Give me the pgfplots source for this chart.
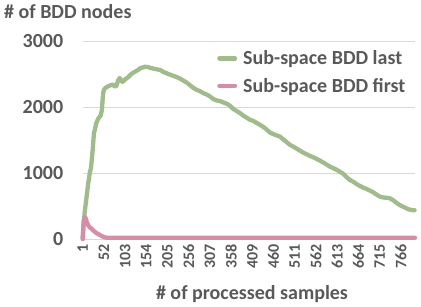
\documentclass[border=0pt]{standalone}
\usepackage{pgfplots}
\pgfplotsset{compat=1.18}
\usepackage{fontspec}
\setmainfont{Carlito}
\definecolor{txtgray}{RGB}{89,89,89}
\definecolor{gridgray}{RGB}{217,217,217}
\definecolor{lastgreen}{RGB}{160,187,140}
\definecolor{firstpink}{RGB}{214,142,166}
\begin{document}
\begin{tikzpicture}
\begin{axis}[
  scale only axis,
  width=332.3pt, height=198pt,
  xmin=1, xmax=800, ymin=0, ymax=3000,
  axis line style={draw=none},
  clip=false,
  ymajorgrids, grid style={gridgray, line width=0.8pt},
  ytick={0,1000,2000,3000},
  xtick={1,52,103,154,205,256,307,358,409,460,511,562,613,664,715,766},
  major tick length=0pt,
  /pgf/number format/assume math mode=true,
  scaled y ticks=false,
  yticklabel style={font=\fontsize{20}{22}\selectfont\bfseries, text=txtgray, anchor=east, xshift=-16pt, /pgf/number format/.cd, 1000 sep={}},
  xticklabel style={font=\fontsize{16}{18}\selectfont\bfseries, text=txtgray, rotate=90, anchor=east, xshift=-2pt, /pgf/number format/.cd, 1000 sep={}},
  legend style={at={(134.3/332.3,0.843)}, anchor=west, draw=none, fill=none,
    font=\fontsize{20}{22}\selectfont\bfseries, text=txtgray,
    row sep=8pt, column sep=4pt, inner sep=0pt, cells={anchor=west}},
  legend image code/.code={\draw[line width=4.5pt, line cap=round] (2.25pt,0pt) -- (17.75pt,0pt);},
]
\addplot[lastgreen, line width=4.3pt, line join=round, line cap=round] coordinates {
(1,0) (3,200) (6,420) (10,620) (14,830) (18,1000) (21,1080) (25,1350) (28,1600)
(31,1680) (34,1760) (38,1820) (44,1870) (47,1950) (50,2200) (52,2260) (56,2290)
(62,2313) (68,2330) (74,2340) (78,2310) (82,2320) (86,2400) (90,2440) (94,2390)
(98,2380) (103,2420) (110,2450) (116,2490) (122,2517) (128,2540) (134,2560)
(140,2590) (146,2600) (151,2610) (158,2605) (165,2590) (171,2582) (180,2570)
(188,2560) (195,2530) (203,2510) (211,2490) (220,2470) (228,2450) (235,2430)
(243,2400) (251,2370) (259,2330) (267,2290) (275,2260) (283,2240) (291,2210)
(299,2190) (307,2160) (315,2120) (323,2100) (331,2090) (339,2070) (347,2050)
(355,2020) (363,1970) (371,1940) (379,1909) (387,1870) (395,1840) (403,1807)
(411,1790) (419,1760) (427,1731) (435,1700) (443,1660) (451,1614) (459,1590)
(467,1570) (475,1554) (483,1510) (491,1470) (499,1428) (507,1400) (515,1370)
(523,1341) (531,1310) (539,1285) (547,1260) (555,1240) (563,1215) (571,1189)
(579,1160) (587,1130) (595,1098) (603,1075) (611,1050) (619,1022) (627,990)
(635,940) (643,896) (651,870) (659,835) (667,805) (675,780) (683,760) (691,734)
(699,710) (707,675) (715,643) (723,630) (731,625) (739,618) (747,590) (755,550)
(763,516) (771,490) (779,465) (787,445) (795,436) (799,436)
};
\addlegendentry{Sub-space BDD last}
\addplot[firstpink, line width=4.3pt, line join=round, line cap=round] coordinates {
(1,0) (3,250) (6,330) (8,320) (11,250) (15,200) (19,170) (22,160) (26,130)
(30,110) (34,90) (38,76) (44,55) (50,35) (54,25) (60,18) (800,18)
};
\addlegendentry{Sub-space BDD first}
\end{axis}
\node[anchor=base west, inner sep=0pt, text=txtgray, font=\fontsize{20}{22}\selectfont\bfseries] at (-78.7pt,220pt) {\# of BDD nodes};
\node[anchor=base, inner sep=0pt, text=txtgray, font=\fontsize{20}{22}\selectfont\bfseries] at (169.3pt,-61pt) {\# of processed samples};
\pgfresetboundingbox
\useasboundingbox (-82.7pt,-68pt) rectangle (338.3pt,239pt);
\end{tikzpicture}
\end{document}
